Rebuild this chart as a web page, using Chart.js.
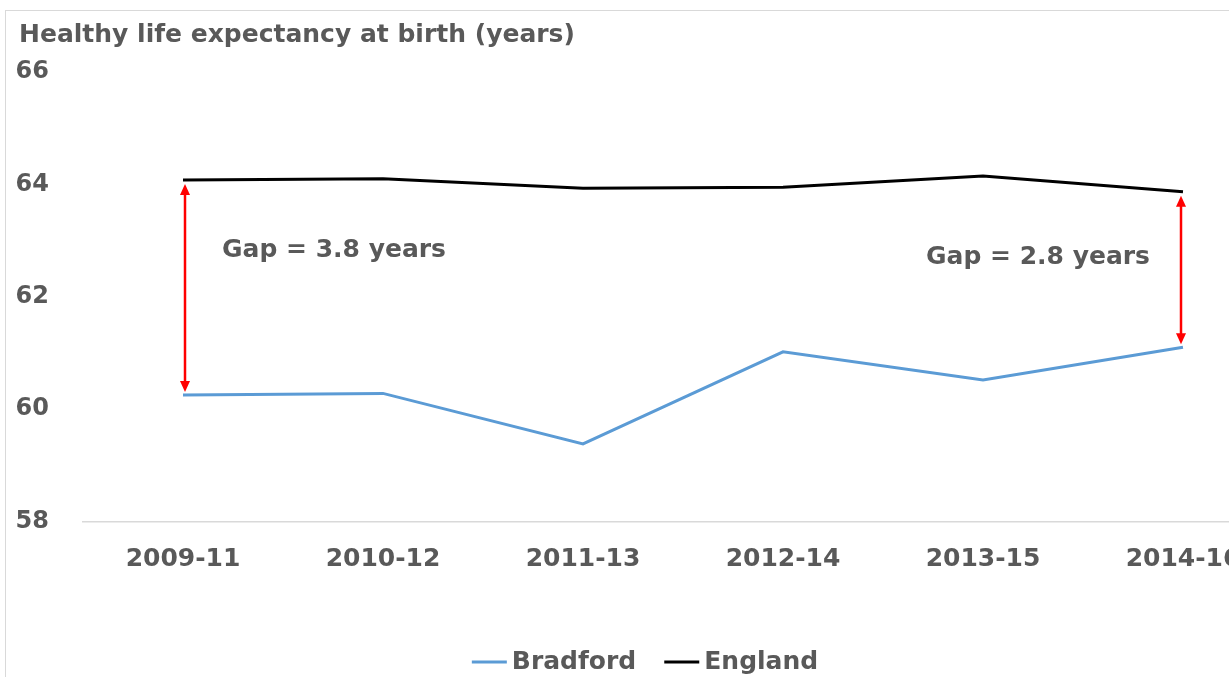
<!DOCTYPE html>
<html>
<head>
<meta charset="utf-8">
<script src="https://cdn.jsdelivr.net/npm/chart.js@4/dist/chart.umd.min.js"></script>
<style>
    html, body { margin: 0; padding: 0; background: #ffffff; overflow: hidden; }
    #wrap { position: absolute; left: 0; top: 0; width: 1290px; height: 677px; }
</style>
</head>
<body>
<div id="wrap"><canvas id="hle" width="1290" height="677"></canvas></div>
<script>
// Healthy life expectancy at birth, 3-year rolling periods
const periods = ['2009-11', '2010-12', '2011-13', '2012-14', '2013-15', '2014-16'];
const bradford = [60.25, 60.28, 59.38, 61.02, 60.52, 61.1];
const england = [64.08, 64.1, 63.93, 63.95, 64.15, 63.87];
const yTicks = [58, 60, 62, 64, 66];

// Gap annotations: which period the arrow sits on, and its label
const gapIndex = [0, 5];
const gapText = ['Gap = 3.8 years', 'Gap = 2.8 years'];

const textGrey = '#595959';
const fontFamily = '"DejaVu Sans", "Open Sans", sans-serif';

// Title, frame, red gap arrows, their labels and the legend row
const annotations = {
    id: 'annotations',
    beforeDraw(chart) {
        const ctx = chart.ctx;
        ctx.save();
        ctx.fillStyle = '#ffffff';
        ctx.fillRect(0, 0, chart.width, chart.height);
        ctx.strokeStyle = '#d9d9d9';
        ctx.lineWidth = 1;
        ctx.strokeRect(5.5, 10.5, chart.width + 20, chart.height + 20);
        ctx.restore();
    },
    afterDatasetsDraw(chart) {
        const ctx = chart.ctx;
        const x = chart.scales.x;
        const y = chart.scales.y;
        ctx.save();

        ctx.fillStyle = textGrey;
        ctx.font = 'bold 25px ' + fontFamily;
        ctx.textBaseline = 'middle';
        ctx.textAlign = 'left';
        ctx.fillText('Healthy life expectancy at birth (years)', 19, 35);

        gapIndex.forEach((i, k) => {
            const px = x.getPixelForValue(i) + (k === 0 ? 2 : -2);
            const top = y.getPixelForValue(england[i]) + 4;
            const bottom = y.getPixelForValue(bradford[i]) - 3;
            ctx.strokeStyle = '#ff0000';
            ctx.fillStyle = '#ff0000';
            ctx.lineWidth = 2.5;
            ctx.beginPath();
            ctx.moveTo(px, top + 8);
            ctx.lineTo(px, bottom - 8);
            ctx.stroke();
            ctx.beginPath();
            ctx.moveTo(px, top);
            ctx.lineTo(px - 5, top + 11);
            ctx.lineTo(px + 5, top + 11);
            ctx.closePath();
            ctx.fill();
            ctx.beginPath();
            ctx.moveTo(px, bottom);
            ctx.lineTo(px - 5, bottom - 11);
            ctx.lineTo(px + 5, bottom - 11);
            ctx.closePath();
            ctx.fill();
        });

        ctx.fillStyle = textGrey;
        ctx.font = 'bold 25px ' + fontFamily;
        ctx.textAlign = 'left';
        ctx.fillText(gapText[0], x.getPixelForValue(gapIndex[0]) + 39, y.getPixelForValue(62.83));
        ctx.textAlign = 'right';
        ctx.fillText(gapText[1], x.getPixelForValue(gapIndex[1]) - 33, y.getPixelForValue(62.7));

        // legend: short line swatch followed by the series name
        const sets = chart.data.datasets;
        const swatch = 35, gap = 5, between = 28, legendY = 662;
        ctx.font = 'bold 25px ' + fontFamily;
        const widths = sets.map(d => ctx.measureText(d.label).width);
        const total = widths.reduce((a, w) => a + swatch + gap + w, 0) + between * (sets.length - 1);
        let cx = 645 - total / 2;
        sets.forEach((d, i) => {
            ctx.strokeStyle = d.borderColor;
            ctx.lineWidth = d.borderWidth;
            ctx.beginPath();
            ctx.moveTo(cx, legendY);
            ctx.lineTo(cx + swatch, legendY);
            ctx.stroke();
            ctx.fillStyle = textGrey;
            ctx.textAlign = 'left';
            ctx.fillText(d.label, cx + swatch + gap, legendY);
            cx += swatch + gap + widths[i] + between;
        });
        ctx.restore();
    }
};

new Chart(document.getElementById('hle'), {
    type: 'line',
    data: {
        labels: periods,
        datasets: [{
            label: 'Bradford',
            data: bradford,
            borderColor: '#5b9bd5',
            backgroundColor: '#5b9bd5',
            borderWidth: 3,
            pointRadius: 0,
            tension: 0
        }, {
            label: 'England',
            data: england,
            borderColor: '#000000',
            backgroundColor: '#000000',
            borderWidth: 3,
            pointRadius: 0,
            tension: 0
        }]
    },
    options: {
        responsive: false,
        animation: false,
        layout: { padding: { top: 72, left: 0, right: 7, bottom: 0 } },
        plugins: {
            legend: { display: false },
            tooltip: { enabled: false }
        },
        scales: {
            x: {
                offset: true,
                grid: { display: false, drawTicks: false },
                border: { display: true, color: '#d9d9d9', width: 1.5 },
                ticks: {
                    color: textGrey,
                    padding: 23,
                    maxRotation: 0,
                    font: { family: fontFamily, size: 25, weight: 'bold' }
                },
                afterFit(scale) { scale.height = 155.5; }
            },
            y: {
                min: 58,
                max: 66,
                grid: { display: false, drawTicks: false },
                border: { display: false },
                afterBuildTicks(scale) { scale.ticks = yTicks.map(v => ({ value: v })); },
                ticks: {
                    color: textGrey,
                    padding: 34,
                    font: { family: fontFamily, size: 24, weight: 'bold' }
                },
                afterFit(scale) { scale.width = 83; }
            }
        }
    },
    plugins: [annotations]
});
</script>
</body>
</html>
